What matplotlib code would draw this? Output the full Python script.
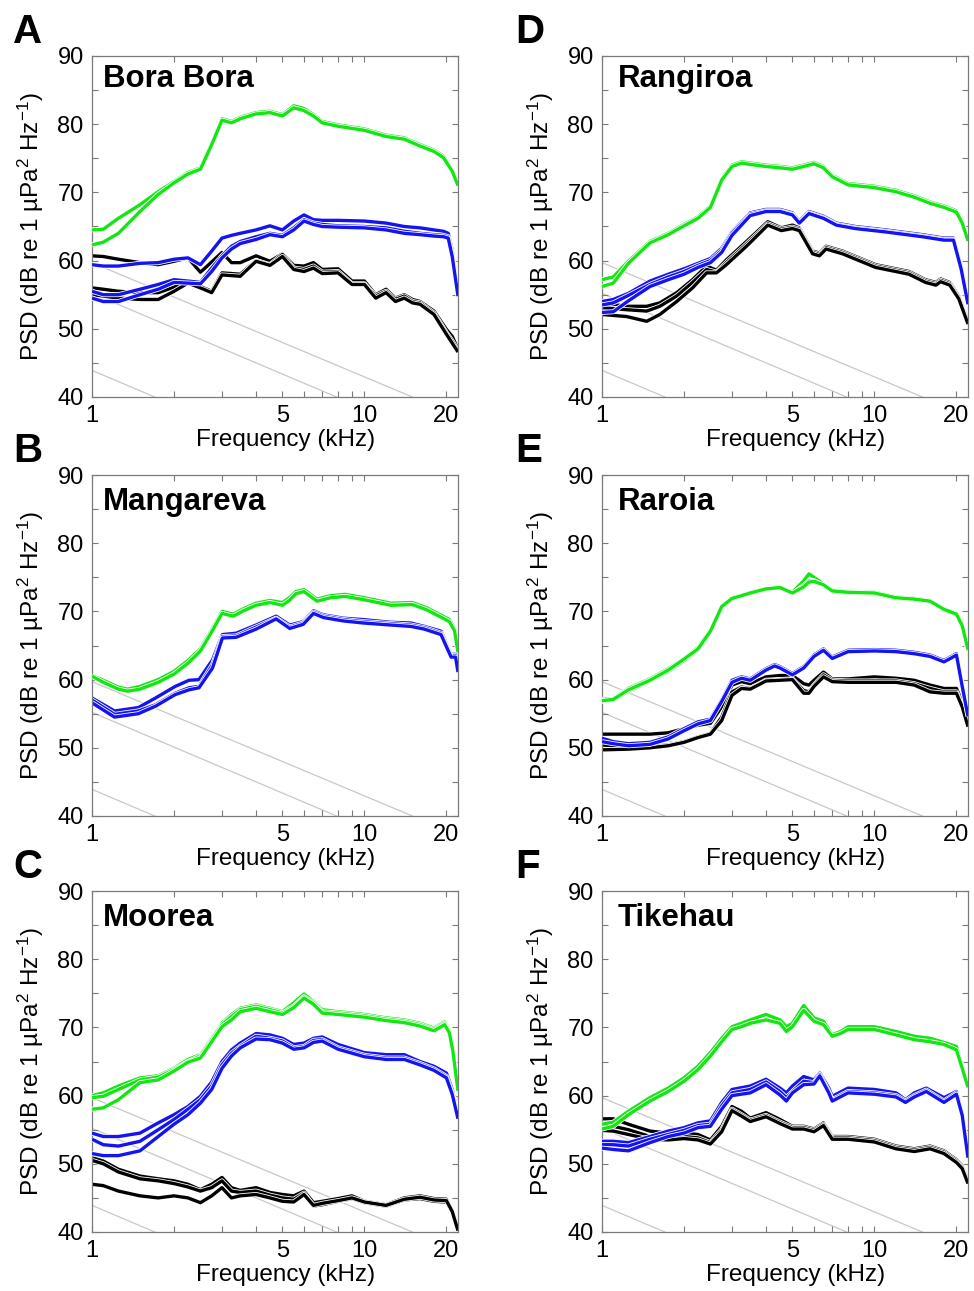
import matplotlib
matplotlib.use("Agg")
import matplotlib.pyplot as plt
import matplotlib.patheffects as pe
from matplotlib.ticker import FixedLocator, FixedFormatter, NullFormatter

# ---------------- DATA (frequency in kHz, PSD in dB) ----------------
# Panel A - Bora Bora
A_F_GREEN = [1, 1.1, 1.25, 1.5, 1.75, 2, 2.25, 2.5, 2.75, 3, 3.25, 3.5, 4, 4.5, 5, 5.5, 6, 6.5, 7, 8, 10, 12, 14, 16, 18, 19.5, 21, 22.05]
A_GREEN = [
    [64.5, 64.6, 66.2, 68.2, 70.1, 71.6, 72.9, 73.6, 77.2, 80.8, 80.4, 81.0, 81.7, 81.9, 81.4, 82.7, 82.3, 81.4, 80.4, 79.9, 79.3, 78.4, 78.0, 77.0, 76.2, 75.3, 73.3, 71.4],
    [62.3, 62.7, 64.0, 67.2, 69.7, 71.4, 72.7, 73.4, 77.0, 80.6, 80.2, 80.8, 81.5, 81.7, 81.2, 82.4, 82.0, 81.2, 80.2, 79.7, 79.1, 78.2, 77.8, 76.8, 76.0, 75.1, 73.1, 71.0],
]
A_F_BLUE = [1, 1.1, 1.25, 1.5, 1.75, 2, 2.25, 2.5, 2.75, 3, 3.25, 3.5, 4, 4.5, 5, 5.5, 6, 6.5, 7, 8, 10, 12, 14, 16, 18, 19.5, 20.3, 21, 22.05]
A_BLUE = [
    [59.4, 59.2, 59.2, 59.6, 59.7, 60.2, 60.4, 59.4, 61.4, 63.3, 63.7, 64.0, 64.5, 65.1, 64.5, 65.8, 66.7, 66.0, 65.9, 65.9, 65.8, 65.5, 65.0, 64.8, 64.5, 64.3, 64.0, 61.5, 55.3],
    [55.5, 55.0, 55.0, 55.8, 56.5, 57.2, 57.0, 56.8, 58.9, 60.7, 62.1, 62.8, 63.5, 64.0, 63.7, 64.8, 66.0, 65.5, 65.3, 65.1, 65.0, 64.8, 64.3, 64.0, 63.8, 63.7, 63.5, 61.0, 55.0],
    [54.5, 54.0, 54.0, 55.0, 55.8, 56.8, 56.7, 56.6, 58.4, 60.4, 61.7, 62.5, 63.1, 63.8, 63.5, 64.5, 65.8, 65.3, 65.0, 64.9, 64.8, 64.5, 64.0, 63.8, 63.6, 63.5, 63.3, 60.6, 54.8],
]
A_F_BLACK = [1, 1.1, 1.25, 1.5, 1.75, 2, 2.25, 2.5, 2.75, 3, 3.25, 3.5, 4, 4.5, 5, 5.5, 6, 6.5, 7, 8, 9, 10, 11, 12, 13, 14, 15, 16, 18, 20, 21, 22.05]
A_BLACK = [
    [60.7, 60.6, 60.2, 59.7, 59.4, 59.9, 60.4, 58.3, 59.8, 61.2, 59.7, 59.7, 60.7, 59.9, 61.0, 59.3, 59.2, 59.7, 58.7, 58.8, 57.0, 57.0, 55.0, 55.8, 54.5, 55.0, 54.3, 54.0, 52.6, 49.9, 48.9, 47.0],
    [56.0, 55.8, 55.5, 55.3, 55.3, 56.1, 57.0, 56.2, 55.5, 58.2, 58.1, 58.0, 60.0, 59.4, 60.9, 58.9, 58.7, 59.2, 58.3, 58.4, 56.6, 56.6, 54.8, 55.5, 54.3, 54.8, 54.0, 53.8, 52.3, 49.4, 48.2, 46.8],
    [55.0, 54.8, 54.5, 54.3, 54.3, 55.5, 56.7, 56.0, 55.3, 57.9, 57.8, 57.7, 59.9, 59.3, 60.6, 58.7, 58.4, 58.9, 58.1, 58.2, 56.5, 56.5, 54.5, 55.3, 54.0, 54.5, 53.8, 53.6, 52.1, 49.2, 47.9, 46.6],
]

# Panel B - Mangareva
B_F_GREEN = [1, 1.1, 1.25, 1.35, 1.5, 1.75, 2, 2.25, 2.5, 2.75, 3, 3.3, 3.6, 4, 4.5, 5, 5.3, 5.6, 6, 6.7, 7.5, 8.5, 10, 12.5, 15, 17, 19, 20.5, 21.4, 22.05]
B_GREEN = [
    [60.6, 59.9, 58.9, 58.6, 59.0, 60.0, 61.2, 62.8, 64.5, 67.3, 70.0, 69.6, 70.4, 71.2, 71.6, 71.3, 72.0, 72.9, 73.2, 71.8, 72.3, 72.5, 72.0, 71.2, 71.3, 70.5, 69.5, 68.8, 67.5, 64.3],
    [60.5, 59.6, 58.6, 58.3, 58.6, 59.6, 60.8, 62.4, 64.2, 67.0, 69.7, 69.3, 70.1, 70.9, 71.3, 70.9, 71.6, 72.6, 72.9, 71.5, 72.0, 72.2, 71.7, 70.9, 71.0, 70.2, 69.2, 68.5, 67.2, 64.0],
]
B_F_BLUE = [1, 1.21, 1.48, 1.71, 2.02, 2.27, 2.47, 2.77, 3.01, 3.38, 4.0, 4.74, 5.32, 5.96, 6.5, 7.07, 8.37, 9.9, 12.5, 14.8, 16.6, 19.1, 20.8, 21.6, 22.05]
B_BLUE = [
    [57.3, 55.4, 55.9, 57.3, 59.0, 59.9, 60.0, 62.9, 66.6, 66.8, 68.0, 69.3, 68.0, 68.5, 70.1, 69.5, 69.0, 68.8, 68.4, 68.3, 67.8, 67.1, 63.7, 63.7, 61.5],
    [57.0, 54.9, 55.4, 56.3, 58.0, 58.8, 59.0, 62.2, 66.3, 66.4, 67.7, 69.0, 67.7, 68.3, 69.9, 69.3, 68.8, 68.5, 68.2, 68.0, 67.6, 66.8, 63.5, 63.5, 61.3],
    [56.6, 54.5, 55.0, 56.1, 57.8, 58.5, 58.8, 61.7, 66.1, 66.2, 67.4, 68.9, 67.5, 68.1, 69.7, 69.1, 68.6, 68.3, 68.0, 67.8, 67.4, 66.6, 63.3, 63.3, 61.1],
]

# Panel C - Moorea
C_F_GREEN = [1, 1.1, 1.25, 1.5, 1.75, 2, 2.25, 2.5, 2.75, 3, 3.25, 3.5, 4, 4.5, 5, 5.5, 6, 6.5, 7, 8, 10, 12, 14, 16, 18, 19.7, 20.5, 21.1, 22.05]
C_GREEN = [
    [60.0, 60.4, 61.4, 62.6, 62.9, 64.0, 65.3, 66.0, 68.4, 70.6, 71.9, 72.8, 73.3, 72.8, 72.3, 73.6, 74.9, 73.8, 72.6, 72.3, 71.9, 71.4, 71.1, 70.6, 69.9, 70.8, 69.6, 67.0, 61.1],
    [59.7, 59.9, 60.9, 62.3, 62.7, 63.8, 65.0, 65.8, 68.2, 70.4, 71.6, 72.6, 73.1, 72.6, 72.1, 73.1, 74.5, 73.6, 72.3, 72.1, 71.7, 71.2, 70.9, 70.4, 69.7, 70.6, 69.4, 66.8, 60.9],
    [58.0, 58.2, 59.4, 61.9, 62.3, 63.6, 64.9, 65.5, 67.9, 70.1, 71.1, 72.3, 72.8, 72.3, 71.9, 72.9, 74.3, 73.4, 72.1, 71.9, 71.5, 71.0, 70.7, 70.2, 69.5, 70.4, 69.2, 66.6, 60.7],
]
C_F_BLUE = [1, 1.1, 1.25, 1.5, 1.75, 2, 2.25, 2.5, 2.75, 3, 3.25, 3.5, 4, 4.5, 5, 5.5, 6, 6.5, 7, 8, 10, 12, 14, 16, 18, 20, 21, 22.05]
C_BLUE = [
    [54.5, 54.0, 54.0, 54.5, 56.0, 57.2, 58.4, 59.9, 62.0, 65.0, 66.7, 67.7, 69.1, 68.9, 68.4, 67.5, 67.7, 68.4, 68.6, 67.5, 66.3, 66.0, 66.0, 65.0, 64.3, 63.3, 60.9, 57.0],
    [53.6, 52.8, 52.6, 53.3, 55.0, 56.5, 58.0, 59.4, 61.4, 64.5, 66.2, 67.2, 68.7, 68.4, 68.0, 67.0, 67.2, 68.1, 68.2, 67.0, 65.9, 65.5, 65.5, 64.7, 63.9, 62.8, 60.4, 56.8],
    [51.5, 51.2, 51.2, 51.9, 54.0, 55.8, 57.2, 58.9, 60.9, 64.0, 65.8, 67.0, 68.3, 68.2, 67.7, 66.8, 67.0, 67.8, 68.0, 66.8, 65.7, 65.3, 65.3, 64.5, 63.7, 62.6, 60.2, 56.6],
]
C_F_BLACK = [1, 1.1, 1.25, 1.5, 1.75, 2, 2.25, 2.5, 2.75, 3, 3.25, 3.5, 4, 4.5, 5, 5.5, 6, 6.5, 7, 8, 9, 10, 12, 14, 16, 18, 20, 21, 22.05]
C_BLACK = [
    [50.9, 50.4, 49.2, 48.2, 47.8, 47.5, 47.0, 46.2, 47.0, 48.0, 46.5, 46.1, 46.5, 45.8, 45.5, 45.3, 46.0, 44.3, 44.5, 44.9, 45.3, 44.5, 44.0, 45.0, 45.3, 44.9, 44.8, 43.1, 40.4],
    [50.5, 50.0, 48.8, 47.8, 47.5, 47.1, 46.6, 46.0, 46.5, 47.5, 46.0, 45.8, 46.0, 45.4, 45.0, 44.8, 45.7, 43.8, 44.0, 44.5, 44.9, 44.3, 43.8, 44.7, 44.9, 44.5, 44.4, 42.9, 40.3],
    [47.0, 46.8, 46.0, 45.3, 45.0, 45.3, 45.0, 44.3, 45.3, 46.5, 45.0, 45.3, 45.5, 45.0, 44.5, 44.4, 45.5, 43.9, 44.2, 44.6, 45.0, 44.4, 43.9, 44.8, 45.1, 44.7, 44.6, 43.0, 40.2],
]

# Panel D - Rangiroa
D_F_GREEN = [1, 1.1, 1.25, 1.5, 1.75, 2, 2.25, 2.5, 2.75, 3, 3.25, 3.5, 4, 4.5, 5, 5.5, 6, 6.5, 7, 8, 10, 12, 14, 16, 18, 20, 21, 22.05]
D_GREEN = [
    [57.2, 57.6, 59.9, 62.8, 64.0, 65.3, 66.4, 68.0, 72.0, 74.0, 74.5, 74.3, 74.0, 73.8, 73.6, 74.0, 74.4, 73.8, 72.5, 71.3, 70.9, 70.3, 69.5, 68.6, 68.0, 67.3, 65.7, 63.1],
    [56.2, 56.7, 59.6, 62.6, 63.8, 65.1, 66.2, 67.8, 71.8, 73.8, 74.3, 74.1, 73.8, 73.6, 73.4, 73.8, 74.2, 73.6, 72.3, 71.1, 70.7, 70.1, 69.3, 68.4, 67.8, 67.1, 65.5, 62.9],
]
D_F_BLUE = [1, 1.1, 1.25, 1.5, 1.75, 2, 2.25, 2.5, 2.75, 3, 3.5, 4, 4.5, 5, 5.3, 5.75, 6.5, 7.25, 8.5, 11, 15, 18, 19.5, 20.8, 22.05]
D_BLUE = [
    [54.0, 54.3, 55.2, 57.0, 58.0, 58.8, 59.6, 60.3, 61.8, 64.2, 67.0, 67.5, 67.5, 67.0, 65.8, 67.2, 66.5, 65.5, 65.0, 64.5, 63.8, 63.3, 63.3, 59.2, 54.0],
    [53.5, 53.8, 54.9, 56.5, 57.6, 58.4, 59.3, 60.0, 61.5, 64.0, 66.8, 67.3, 67.3, 66.8, 65.6, 67.0, 66.3, 65.3, 64.8, 64.3, 63.6, 63.1, 63.1, 59.0, 53.8],
    [52.4, 52.5, 54.1, 56.2, 57.2, 58.0, 59.0, 59.7, 61.2, 63.7, 66.6, 67.2, 67.2, 66.7, 65.5, 66.9, 66.2, 65.2, 64.7, 64.2, 63.5, 63.0, 63.0, 58.8, 53.6],
]
D_F_BLACK = [1, 1.23, 1.46, 1.63, 1.88, 2.15, 2.42, 2.63, 2.86, 3.39, 4.06, 4.55, 5.0, 5.3, 5.93, 6.28, 6.64, 7.63, 10.1, 13.4, 15.4, 16.8, 17.5, 18.9, 20.4, 22.05]
D_BLACK = [
    [53.8, 53.3, 53.3, 53.8, 55.3, 57.2, 59.2, 58.6, 60.1, 62.8, 65.7, 64.8, 65.2, 64.8, 61.4, 61.1, 62.1, 61.4, 59.4, 58.4, 57.2, 56.8, 57.3, 56.8, 54.8, 51.1],
    [53.1, 52.8, 52.6, 53.3, 54.8, 56.8, 58.7, 58.3, 59.7, 62.4, 65.4, 64.6, 64.9, 64.6, 61.2, 60.9, 61.9, 61.2, 59.2, 58.2, 57.0, 56.6, 57.1, 56.6, 54.6, 50.9],
    [52.1, 51.8, 51.1, 52.1, 54.0, 56.0, 58.2, 58.2, 59.4, 62.1, 65.2, 64.4, 64.7, 64.4, 61.0, 60.7, 61.7, 61.0, 59.0, 58.0, 56.8, 56.4, 56.9, 56.4, 54.4, 50.7],
]

# Panel E - Raroia
E_F_GREEN = [1, 1.1, 1.25, 1.5, 1.75, 2, 2.25, 2.5, 2.75, 3, 3.25, 3.5, 4, 4.5, 5, 5.5, 5.75, 6, 6.5, 7, 8, 10, 12, 14, 16, 18, 20, 21, 22.05]
E_GREEN = [
    [57.1, 57.2, 58.7, 60.1, 61.6, 63.1, 64.7, 67.3, 70.8, 72.0, 72.4, 72.8, 73.4, 73.6, 72.8, 74.5, 75.5, 75.0, 74.0, 73.1, 72.9, 72.8, 72.1, 71.9, 71.6, 70.4, 69.7, 68.0, 64.5],
    [56.8, 57.0, 58.3, 59.8, 61.2, 62.8, 64.4, 67.0, 70.6, 71.8, 72.3, 72.6, 73.3, 73.5, 72.6, 73.8, 74.5, 74.5, 73.8, 72.9, 72.7, 72.6, 71.9, 71.7, 71.4, 70.2, 69.5, 67.8, 64.3],
    [56.9, 57.1, 58.5, 59.9, 61.4, 63.0, 64.5, 67.1, 70.7, 71.9, 72.3, 72.7, 73.3, 73.5, 72.7, 73.6, 74.3, 74.4, 73.9, 73.0, 72.8, 72.7, 72.0, 71.8, 71.5, 70.3, 69.6, 67.9, 64.4],
]
E_F_BLUE = [1, 1.1, 1.25, 1.5, 1.75, 2, 2.25, 2.5, 2.75, 3, 3.25, 3.5, 4, 4.3, 4.5, 5, 5.5, 6, 6.5, 7, 8, 10, 12, 14, 16, 18, 19, 20, 21, 22.05]
E_BLUE = [
    [51.4, 50.9, 50.6, 50.8, 51.6, 52.8, 53.8, 54.2, 57.0, 59.9, 60.4, 60.1, 61.6, 62.2, 61.9, 60.9, 61.9, 63.6, 64.5, 63.3, 64.3, 64.4, 64.3, 64.0, 63.6, 62.8, 63.3, 63.8, 59.2, 54.8],
    [50.9, 50.6, 50.3, 50.5, 51.3, 52.5, 53.5, 54.0, 56.8, 59.6, 60.2, 59.9, 61.4, 62.0, 61.7, 60.7, 61.7, 63.4, 64.3, 63.1, 64.1, 64.2, 64.1, 63.8, 63.4, 62.6, 63.1, 63.6, 59.0, 54.6],
]
E_F_BLACK = [1, 1.25, 1.5, 1.75, 2, 2.25, 2.5, 2.75, 3, 3.25, 3.5, 4, 4.5, 5, 5.5, 5.75, 6, 6.5, 7, 8, 10, 12, 14, 16, 18, 20, 21, 22.05]
E_BLACK = [
    [52.0, 52.0, 52.0, 52.2, 52.8, 53.3, 53.6, 56.0, 59.2, 59.7, 59.4, 60.4, 60.6, 60.6, 59.4, 59.2, 59.9, 61.1, 60.1, 60.1, 60.4, 60.2, 59.9, 59.2, 58.7, 58.7, 56.7, 53.8],
    [50.4, 50.2, 50.2, 50.4, 50.9, 51.6, 52.1, 54.5, 58.2, 58.9, 58.7, 59.9, 60.0, 60.1, 58.4, 58.2, 59.2, 60.7, 59.9, 59.8, 59.8, 59.8, 59.4, 58.7, 58.2, 58.2, 56.2, 53.3],
    [49.7, 49.8, 50.0, 50.3, 50.8, 51.5, 52.0, 54.0, 57.7, 58.7, 58.6, 59.8, 59.9, 60.0, 58.0, 58.0, 59.0, 60.4, 59.7, 59.6, 59.6, 59.6, 59.2, 58.2, 58.0, 58.0, 56.0, 53.1],
]

# Panel F - Tikehau
F_F_GREEN = [1, 1.1, 1.25, 1.5, 1.75, 2, 2.25, 2.5, 2.75, 3, 3.25, 3.5, 4, 4.5, 4.75, 5, 5.5, 6, 6.5, 7, 7.5, 8, 10, 12, 14, 16, 18, 20, 21, 22.05]
F_GREEN = [
    [55.8, 56.1, 57.7, 59.7, 61.1, 62.6, 64.3, 66.3, 68.4, 70.1, 70.6, 71.1, 71.9, 71.1, 70.1, 70.6, 73.2, 71.4, 70.9, 68.9, 69.4, 70.1, 70.1, 69.4, 68.7, 68.4, 67.8, 67.2, 64.3, 61.4],
    [55.1, 55.5, 57.2, 59.2, 60.6, 62.1, 63.8, 65.8, 67.9, 69.7, 70.1, 70.6, 71.1, 70.6, 69.4, 70.1, 72.5, 70.9, 70.4, 68.7, 69.1, 69.7, 69.7, 68.9, 68.2, 67.9, 67.5, 66.7, 64.0, 61.2],
]
F_F_BLUE = [1, 1.1, 1.25, 1.5, 1.75, 2, 2.25, 2.5, 2.75, 3, 3.5, 4, 4.5, 4.75, 5, 5.5, 6, 6.3, 6.8, 7, 8, 10, 12, 13, 14, 15.5, 18, 20, 21, 22.05]
F_BLUE = [
    [53.3, 53.3, 53.1, 54.0, 54.8, 55.3, 56.0, 56.3, 59.0, 60.9, 61.4, 62.4, 61.1, 60.4, 61.4, 62.8, 62.3, 63.3, 61.1, 59.9, 61.1, 60.9, 60.4, 59.4, 60.4, 61.1, 59.7, 60.6, 57.5, 51.1],
    [52.8, 52.8, 52.6, 53.6, 54.3, 54.9, 55.6, 55.8, 58.5, 60.4, 60.9, 62.0, 60.6, 59.7, 60.6, 62.1, 61.9, 63.1, 60.6, 59.4, 60.6, 60.4, 60.0, 59.2, 60.0, 60.8, 59.2, 60.4, 57.3, 51.0],
    [52.3, 52.1, 51.9, 53.1, 54.0, 54.5, 55.3, 55.5, 58.0, 60.0, 60.4, 61.6, 60.1, 59.2, 60.4, 61.6, 61.7, 62.9, 60.4, 59.2, 60.4, 60.2, 59.8, 59.0, 59.8, 60.6, 59.0, 60.2, 57.1, 50.9],
]
F_F_BLACK = [1, 1.1, 1.25, 1.5, 1.75, 2, 2.25, 2.5, 2.75, 3, 3.25, 3.5, 4, 4.5, 5, 5.5, 6, 6.5, 7, 8, 10, 12, 14, 16, 18, 20, 21, 22.05]
F_BLACK = [
    [56.6, 56.6, 55.8, 54.8, 54.5, 54.5, 54.3, 53.5, 55.5, 58.4, 57.7, 56.7, 57.5, 56.5, 55.5, 55.5, 55.1, 56.0, 54.0, 54.0, 53.6, 52.6, 52.2, 52.6, 51.9, 50.6, 49.7, 47.5],
    [55.8, 55.5, 55.0, 54.0, 54.0, 54.0, 53.8, 53.1, 55.0, 58.0, 57.2, 56.4, 57.1, 56.1, 55.3, 55.3, 54.9, 55.8, 53.8, 53.8, 53.4, 52.4, 52.0, 52.4, 51.7, 50.4, 49.5, 47.3],
    [54.9, 54.8, 54.3, 53.6, 53.5, 53.7, 53.5, 52.9, 54.7, 57.8, 57.0, 56.2, 56.9, 55.9, 55.1, 55.1, 54.7, 55.6, 53.6, 53.6, 53.2, 52.2, 51.8, 52.2, 51.5, 50.2, 49.3, 47.1],
]

# Grey reference lines (same in every panel): (f_start, dB_start) -> (f_end, dB_end)
REF_F_START = [1.0, 1.0, 1.0]
REF_DB_START = [59.7, 55.2, 43.9]
REF_F_END = [15.0, 7.9, 1.70]
REF_DB_END = [40.0, 40.0, 40.0]

PANEL_LETTERS = ["A", "B", "C", "D", "E", "F"]
PANEL_TITLES = ["Bora Bora", "Mangareva", "Moorea", "Rangiroa", "Raroia", "Tikehau"]
X_TICKS = [1, 5, 10, 20]
X_TICK_LABELS = ["1", "5", "10", "20"]
X_MINOR = [2, 3, 4, 6, 7, 8, 9]
Y_TICKS = [40, 50, 60, 70, 80, 90]
Y_MINOR = [45, 55, 65, 75, 85]

# ---------------- STYLE ----------------
plt.rcParams['font.family'] = ['Liberation Sans', 'DejaVu Sans']
plt.rcParams['mathtext.fontset'] = 'custom'
plt.rcParams['mathtext.rm'] = 'Liberation Sans'
plt.rcParams['mathtext.it'] = 'Liberation Sans:italic'
plt.rcParams['mathtext.bf'] = 'Liberation Sans:bold'

GREEN = '#14e614'
BLUE = '#1414f2'
BLACK = '#000000'
GREY = '#c8c8c8'
SPINE = '#7a7a7a'

W, H = 974, 1291
fig = plt.figure(figsize=(W / 100, H / 100), dpi=100)
fig.patch.set_facecolor('white')

col_left = [92, 602]
row_top = [56, 475, 891]
aw, ah = 366, 341
title_dx = [11, 16]
title_base = [31, 35, 35]
letter_x = [13, 515]
letter_y = [13, 432, 848]

panels = [
    (0, 0, [(A_F_BLACK, A_BLACK, BLACK), (A_F_BLUE, A_BLUE, BLUE), (A_F_GREEN, A_GREEN, GREEN)]),
    (0, 1, [(B_F_BLUE, B_BLUE, BLUE), (B_F_GREEN, B_GREEN, GREEN)]),
    (0, 2, [(C_F_BLACK, C_BLACK, BLACK), (C_F_BLUE, C_BLUE, BLUE), (C_F_GREEN, C_GREEN, GREEN)]),
    (1, 0, [(D_F_BLACK, D_BLACK, BLACK), (D_F_BLUE, D_BLUE, BLUE), (D_F_GREEN, D_GREEN, GREEN)]),
    (1, 1, [(E_F_BLACK, E_BLACK, BLACK), (E_F_BLUE, E_BLUE, BLUE), (E_F_GREEN, E_GREEN, GREEN)]),
    (1, 2, [(F_F_BLACK, F_BLACK, BLACK), (F_F_BLUE, F_BLUE, BLUE), (F_F_GREEN, F_GREEN, GREEN)]),
]

TICK_FS = 17
LABEL_FS = 17.5
for i, (col, row, groups) in enumerate(panels):
    L = col_left[col]
    T = row_top[row]
    ax = fig.add_axes([L / W, 1 - (T + ah) / H, aw / W, ah / H])
    ax.set_xscale('log')

    for fs, ds, fe, de in zip(REF_F_START, REF_DB_START, REF_F_END, REF_DB_END):
        ax.plot([fs, fe], [ds, de], color=GREY, lw=0.9, zorder=1)

    z = 2
    for freq, curves, color in groups:
        for vals in curves:
            ax.plot(freq, vals, color=color, lw=2.4, zorder=z, solid_joinstyle='round',
                    solid_capstyle='butt',
                    path_effects=[pe.Stroke(linewidth=3.6, foreground='white'), pe.Normal()])
        z += 1

    ax.set_xlim(1, 22.05)
    ax.set_ylim(40, 90)
    ax.xaxis.set_major_locator(FixedLocator(X_TICKS))
    ax.xaxis.set_major_formatter(FixedFormatter(X_TICK_LABELS))
    ax.xaxis.set_minor_locator(FixedLocator(X_MINOR))
    ax.xaxis.set_minor_formatter(NullFormatter())
    ax.yaxis.set_major_locator(FixedLocator(Y_TICKS))
    ax.yaxis.set_minor_locator(FixedLocator(Y_MINOR))
    ax.tick_params(which='both', direction='in', top=True, right=True, length=4,
                   width=0.8, color=SPINE, labelsize=TICK_FS, pad=6)
    for sp in ax.spines.values():
        sp.set_color(SPINE)
        sp.set_linewidth(0.9)

    ax.set_ylabel(r'PSD (dB re 1 µPa$^{2}$ Hz$^{-1}$)', fontsize=LABEL_FS)
    ax.yaxis.set_label_coords(-0.127, 0.5)
    ax.set_xlabel('Frequency (kHz)', fontsize=LABEL_FS, va='top')
    ax.xaxis.set_label_coords(0.53, -0.094)

    ax.text(title_dx[col] / aw, 1 - title_base[row] / ah, PANEL_TITLES[i],
            transform=ax.transAxes, fontsize=22.5, fontweight='bold',
            ha='left', va='baseline', zorder=10)
    fig.text(letter_x[col] / W, 1 - letter_y[row] / H, PANEL_LETTERS[i],
             fontsize=29, fontweight='bold', ha='left', va='top')

fig.savefig('out.png', dpi=100, facecolor='white')
